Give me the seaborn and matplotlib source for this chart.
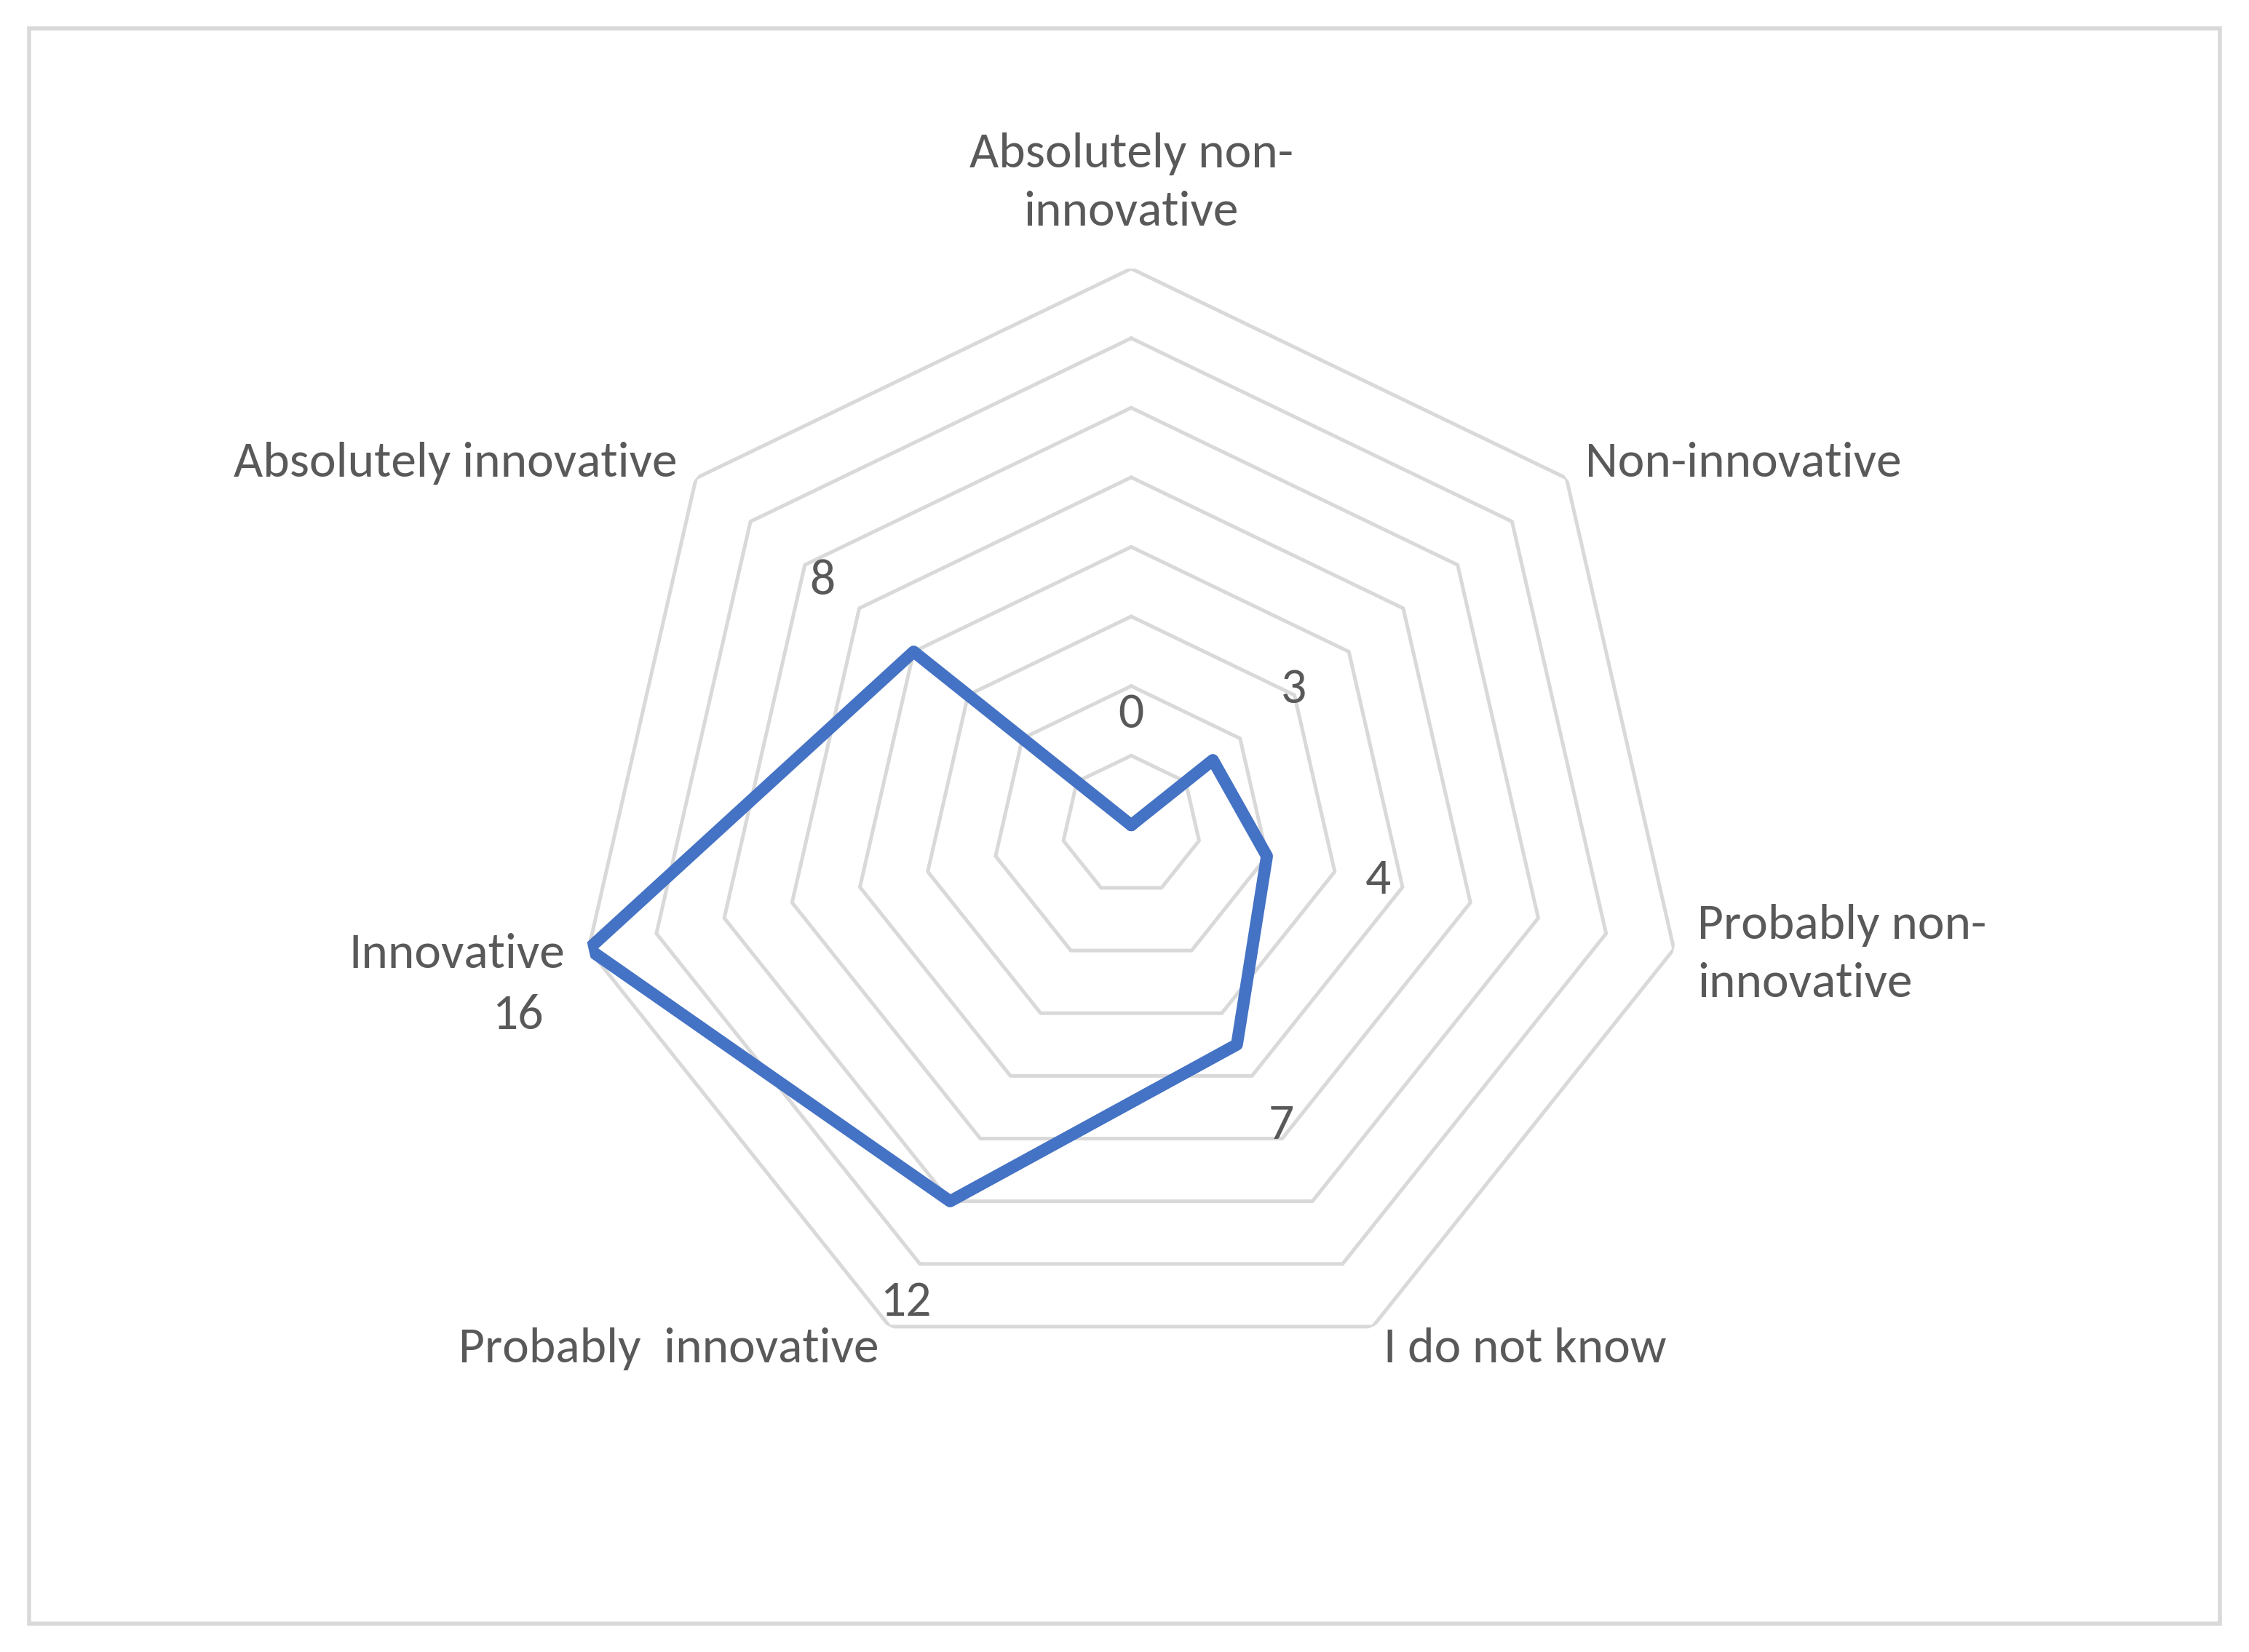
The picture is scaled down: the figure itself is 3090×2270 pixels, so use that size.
import numpy as np
import matplotlib
matplotlib.use("Agg")
import matplotlib.pyplot as plt
import seaborn as sns
import pandas as pd
from matplotlib.patches import Rectangle

sns.set_theme(style="white")
plt.rcParams['font.family'] = ['Carlito', 'Liberation Sans', 'DejaVu Sans']

categories = ["Absolutely non-\ninnovative", "Non-innovative", "Probably non-\ninnovative",
              "I do not know", "Probably  innovative", "Innovative", "Absolutely innovative"]
values = [0, 3, 4, 7, 12, 16, 8]
label_offsets = [(0, 55), (40, 35), (55, -12), (22, -40), (-22, -50), (-35, -33), (-45, 35)]
rings = [2, 4, 6, 8, 10, 12, 14, 16]

n = len(categories)
angles = np.arange(n) * 2 * np.pi / n
df = pd.DataFrame({"cat": categories, "value": values, "theta": angles})

fig = plt.figure(figsize=(15.45, 11.35), dpi=200)
fig.patches.append(Rectangle((0.013, 0.017), 0.974, 0.966, transform=fig.transFigure,
                             fill=False, edgecolor="#d9d9d9", linewidth=2))
ax = fig.add_axes([0.503 - 0.2475, 0.5 - 0.337, 0.495, 0.675], projection="polar")
ax.set_theta_zero_location("N")
ax.set_theta_direction(-1)
ax.set_ylim(0, 16)
ax.grid(False)
ax.spines["polar"].set_visible(False)
ax.set_xticks([]); ax.set_yticks([])
ax.set_facecolor("none")

closed = np.append(angles, angles[0])
for r in rings:
    ax.plot(closed, [r] * (n + 1), color="#d9d9d9", lw=1.8, zorder=1)

close_row = df.iloc[[0]].copy()
close_row["theta"] = 2 * np.pi
plot_df = pd.concat([df, close_row], ignore_index=True)
sns.lineplot(data=plot_df, x="theta", y="value", sort=False, estimator=None, ax=ax,
             color="#4472C4", lw=6, zorder=3)
ax.set_xlabel(""); ax.set_ylabel("")
ax.set_ylim(0, 16)

for (t, v), off in zip(zip(angles, values), label_offsets):
    ax.annotate(str(v), (t, v), xytext=off, textcoords="offset points",
                ha="center", va="center", fontsize=25, color="#595959")

for t, c in zip(angles, categories):
    s = np.sin(t)
    if abs(s) < 1e-6:
        ha, va, rr = "center", "bottom", 17.0
    elif s > 0:
        ha, va, rr = "left", "center", 16.7
    else:
        ha, va, rr = "right", "center", 16.7
    ax.text(t, rr, c, ha=ha, va=va, fontsize=25, color="#595959", linespacing=1.45)

fig.savefig("out.png", dpi=200)
